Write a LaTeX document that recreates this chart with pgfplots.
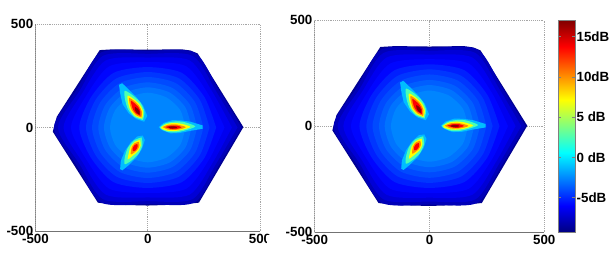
\documentclass[border=0pt]{standalone}
\usepackage{fontspec}
\setmainfont{Liberation Sans}
\usepackage{pgfplots}
\pgfplotsset{compat=1.18}
\definecolor{b0}{rgb}{0,0,.58}
\definecolor{b1}{rgb}{0,0,.72}
\definecolor{b2}{rgb}{0,0,.84}
\definecolor{b3}{rgb}{0,0,.94}
\definecolor{b4}{rgb}{0,.02,1}
\definecolor{b5}{rgb}{0,.12,1}
\definecolor{b6}{rgb}{0,.21,1}
\definecolor{b7}{rgb}{0,.29,1}
\definecolor{b8}{rgb}{0,.37,1}
\definecolor{b9}{rgb}{0,.45,1}
\definecolor{b10}{rgb}{0,.52,1}
\definecolor{a1}{rgb}{0,.74,1}
\definecolor{a2}{rgb}{.3,1,.7}
\definecolor{a3}{rgb}{1,1,0}
\definecolor{a4}{rgb}{1,.55,0}
\definecolor{a5}{rgb}{1,0,0}
\definecolor{a6}{rgb}{.55,0,0}
\newcommand\lay[2]{\addplot[draw=none,fill=#1,smooth,tension=.45] coordinates {#2};}
\newcommand\poly[2]{\addplot[draw=none,fill=#1] coordinates {#2};}
\newcommand\panel{%
\poly{b0}{(-214,374)(-150,378)(0,376)(150,378)(190,372)(222,358)(426,2)(228,-363)(150,-372)(0,-377)(-150,-373)(-222,-363)(-423,-20)(-405,52)}
\lay{b1}{(418,0)(316,183)(209,362)(0,370)(-209,362)(-316,183)(-418,0)(-316,-183)(-209,-362)(0,-370)(209,-362)(316,-183)(418,0)}
\lay{b2}{(400,0)(304,176)(200,346)(0,356)(-200,346)(-304,176)(-400,0)(-304,-176)(-200,-346)(0,-356)(200,-346)(304,-176)(400,0)}
\lay{b3}{(375,0)(290,168)(187,324)(0,338)(-187,324)(-290,168)(-375,0)(-290,-168)(-187,-324)(0,-338)(187,-324)(290,-168)(375,0)}
\lay{b4}{(342,0)(272,157)(171,296)(0,316)(-171,296)(-272,157)(-342,0)(-272,-157)(-171,-296)(0,-316)(171,-296)(272,-157)(342,0)}
\lay{b5}{(305,0)(253,146)(152,264)(0,292)(-152,264)(-253,146)(-305,0)(-253,-146)(-152,-264)(0,-292)(152,-264)(253,-146)(305,0)}
\lay{b6}{(275,0)(232,134)(138,238)(0,268)(-138,238)(-232,134)(-275,0)(-232,-134)(-138,-238)(0,-268)(138,-238)(232,-134)(275,0)}
\lay{b7}{(248,0)(211,122)(124,215)(0,244)(-124,215)(-211,122)(-248,0)(-211,-122)(-124,-215)(0,-244)(124,-215)(211,-122)(248,0)}
\lay{b8}{(220,0)(189,109)(110,191)(0,218)(-110,191)(-189,109)(-220,0)(-189,-109)(-110,-191)(0,-218)(110,-191)(189,-109)(220,0)}
\lay{b9}{(195,0)(168,97)(98,169)(0,194)(-98,169)(-168,97)(-195,0)(-168,-97)(-98,-169)(0,-194)(98,-169)(168,-97)(195,0)}
\lay{b10}{(168,0)(145,84)(84,145)(0,168)(-84,145)(-145,84)(-168,0)(-145,-84)(-84,-145)(0,-168)(84,-145)(145,-84)(168,0)}
% right arm
\poly{a1}{(49,2)(70,22)(110,36)(150,34)(190,28)(245,10)(245,-6)(190,-16)(140,-27)(100,-28)(65,-13)}
\lay{a2}{(54,2)(80,21)(120,29)(160,27)(212,5)(160,-16)(120,-24)(85,-20)(58,-6)(54,2)}
\lay{a3}{(60,2)(85,17)(120,22)(155,17)(190,3)(155,-11)(120,-17)(85,-15)(62,-6)(60,2)}
\lay{a4}{(66,2)(90,13)(125,15)(155,8)(170,1)(150,-7)(120,-12)(90,-10)(66,2)}
\lay{a5}{(78,2)(100,9)(130,9)(150,1)(125,-8)(100,-6)(78,2)}
\lay{a6}{(92,3)(110,6)(128,3)(130,-1)(110,-5)(95,-2)(92,3)}
% upper arm
\poly{a1}{(-16,28)(-2,56)(-20,105)(-50,146)(-85,184)(-114,214)(-128,206)(-122,160)(-112,113)(-84,68)(-50,40)}
\lay{a2}{(-21,36)(-14.5,77)(-33,121)(-67,155.5)(-102.5,177.5)(-101,135.5)(-88,89)(-59.5,51)(-21,36)}
\lay{a3}{(-25,43)(-20,75)(-34.5,109.5)(-62,137.5)(-89,154)(-88,122.5)(-78,84.5)(-55,55)(-25,43)}
\lay{a4}{(-28,48.5)(-26,75)(-38.5,104.5)(-62,129.5)(-82.5,143)(-81,118.5)(-71.5,85.5)(-52,60)(-28,48.5)}
\lay{a5}{(-32.5,56)(-33,79)(-42.7,100)(-58,116.6)(-75,130)(-72,108.6)(-65.3,87)(-52,68)(-32.5,56)}
\lay{a6}{(-36,62)(-36.4,77)(-44,90)(-57.5,99.6)(-56,83)(-48.6,70)(-36,62)}
% lower arm
\poly{a1}{(-22.5,-39)(-13,-60)(-25,-102)(-50,-145)(-85,-182)(-113,-207)(-123,-201)(-120,-162)(-102,-114)(-76,-72)(-46,-43)}
\lay{a2}{(-27.5,-47.6)(-23.5,-84.6)(-41,-126.6)(-73,-160)(-102.5,-177.5)(-102,-143)(-89,-98.6)(-61.5,-62.6)(-27.5,-47.6)}
\lay{a3}{(-34,-59)(-31,-86)(-42.7,-114)(-65.5,-135.5)(-89,-154)(-84.5,-124.5)(-77.3,-94)(-59,-70)(-34,-59)}
\lay{a4}{(-40,-69)(-37,-88)(-47,-109)(-75,-130)(-71,-95)(-58,-76)(-40,-69)}
\lay{a5}{(-46,-79.7)(-45.6,-95)(-54,-109.6)(-66,-114)(-67,-100)(-58,-84.3)(-46,-79.7)}
\draw[color=black!55,line width=.7pt] (rel axis cs:0,1) -- (rel axis cs:0,0) -- (rel axis cs:1,0);
}
\pgfplotsset{panel/.style={
  scale only axis,
  xmin=-500,xmax=500,ymin=-500,ymax=500,
  xtick={-500,0,500},ytick={-500,0,500},
  xticklabels={-500,0,500},yticklabels={-500,0,500},
  axis line style={draw=none},
  major tick length=0pt,
  grid=major,
  grid style={densely dotted,black!35,line width=.5pt},
  ticklabel style={font=\fontsize{10}{11}\selectfont\bfseries,inner sep=1pt},
  xticklabel style={yshift=-1.5pt},
  yticklabel style={xshift=-.5pt},
  clip=true,
}}
\begin{document}
\begin{tikzpicture}
\useasboundingbox (0,0) rectangle (462pt,193.5pt);
\begin{axis}[panel,at={(26.6pt,20.25pt)},anchor=south west,width=168.4pt,height=155.25pt]
\panel
\end{axis}
\begin{axis}[panel,at={(236pt,19.5pt)},anchor=south west,width=172.2pt,height=158.8pt,
  colormap/jet,point meta min=-9.3,point meta max=17,colorbar,
  colorbar style={at={(1.06,1)},anchor=north west,width=12.75pt,height=159pt,
    ytick={-5,0,5,10,15},yticklabels={-5dB,0 dB,5 dB,10dB,15dB},
    major tick length=2pt,
    axis line style={draw=black!50},
    yticklabel style={font=\fontsize{10}{11}\selectfont\bfseries,inner sep=1pt,xshift=0pt}}]
\panel
\end{axis}
\fill[white] (200.4pt,0) rectangle (206pt,17pt);
\end{tikzpicture}
\end{document}
